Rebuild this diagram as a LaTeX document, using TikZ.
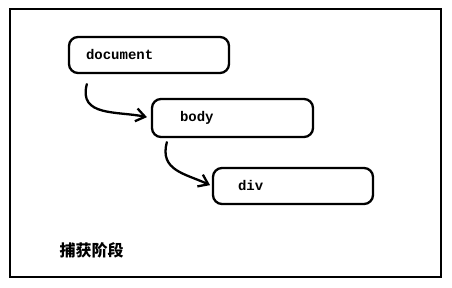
\documentclass[tikz,border=0pt]{standalone}
\usepackage{fontspec}
\setmonofont{Liberation Mono}
\newfontfamily\cjk{Noto Sans CJK SC}
\usetikzlibrary{arrows.meta, positioning, calc}

\begin{document}
\begin{tikzpicture}[
  x=1pt, y=1pt,
  %% ── Box styles ──────────────────────────────────────────────────────────
  elem/.style={
    draw, line width=2.3pt, rounded corners=9pt,
    minimum height=36pt, align=left,
    font=\ttfamily\bfseries\fontsize{14}{16}\selectfont
  },
  %% ── Arrow styles ────────────────────────────────────────────────────────
  arr/.style={
    -{Straight Barb[length=9pt, width=13pt]}, line width=2.3pt,
    line cap=round
  },
  frame/.style={line width=2.6pt},
]

\useasboundingbox (0,0) rectangle (452,288);

%% ── Outer frame ─────────────────────────────────────────────────────────
\draw[frame] (10,11) rectangle (441,279);

%% ── DOM elements ────────────────────────────────────────────────────────
\node[elem, text width=126pt, inner xsep=17pt]
  (doc) at (149,233) {document};

\node[elem, text width=105pt, inner xsep=28pt, minimum height=38pt]
  (body) at (232.5,170) {body};

\node[elem, text width=110pt, inner xsep=25pt]
  (div) at (293,102) {div};

%% ── Capture path ────────────────────────────────────────────────────────
\draw[arr, shorten >=4pt]
  ($(doc.south west) + (19,-10)$) to[out=-105, in=168, looseness=1.2] (body.west);

\draw[arr, shorten >=2pt]
  ($(body.south west) + (16,-4)$) to[out=-105, in=155, looseness=1.2] (div.west);

%% ── Phase label ─────────────────────────────────────────────────────────
\node[font=\cjk\bfseries\fontsize{16}{18}\selectfont]
  (phase) at (91.5,38) {捕获阶段};

\end{tikzpicture}
\end{document}
